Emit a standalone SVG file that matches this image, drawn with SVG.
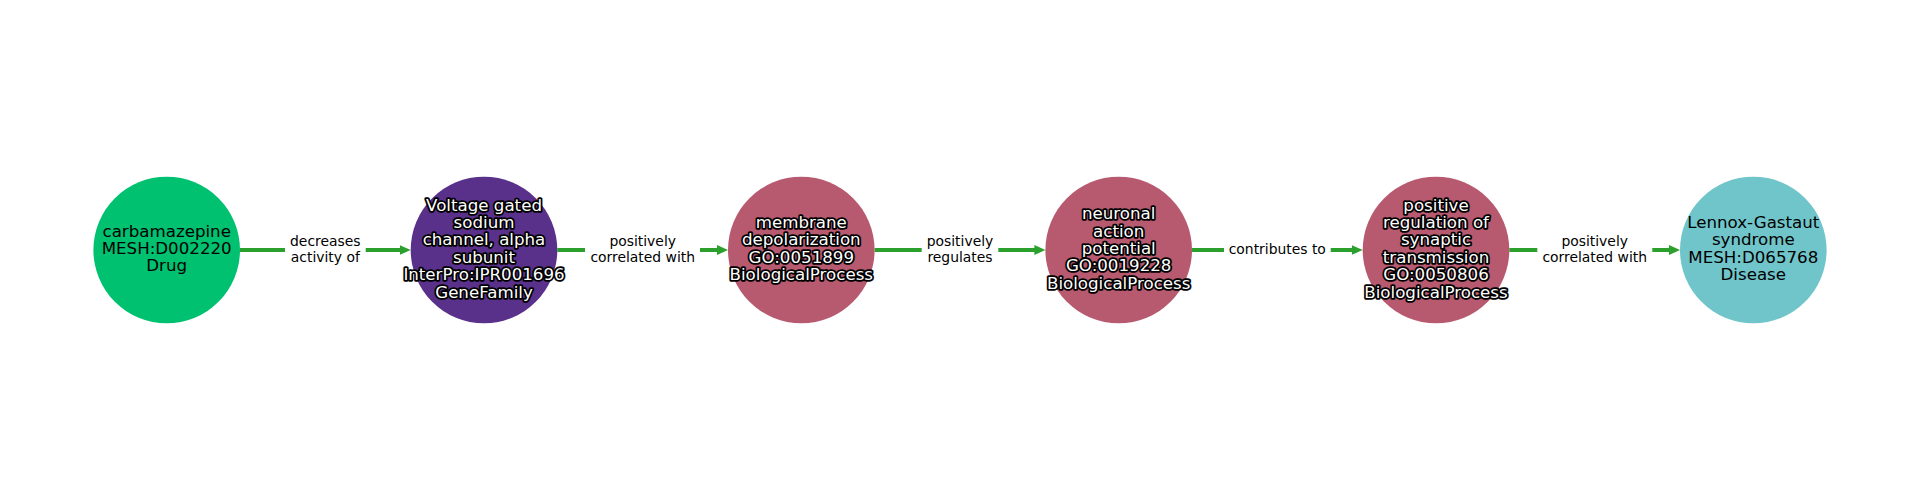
<svg xmlns="http://www.w3.org/2000/svg" width="1920" height="500" viewBox="0 0 1920 500">
<defs>
<style>
.bg{fill:#ffffff}
.edge{stroke:#2ca02c;stroke-width:4;fill:none}
.lbox{fill:#ffffff}
.elab{font-family:"DejaVu Sans",sans-serif;font-size:13.9px;fill:#000000;text-anchor:middle}
.nlab{font-family:"DejaVu Sans",sans-serif;font-size:16.67px;text-anchor:middle}
.dark{fill:#ffffff;stroke:#000000;stroke-width:3.6;stroke-linejoin:round;paint-order:stroke}
.light{fill:#000000}
.drug{fill:#00c170}
.gene{fill:#5a318a}
.bp{fill:#b75a70}
.dis{fill:#70c5ca}
</style>
<marker id="arr" markerUnits="userSpaceOnUse" markerWidth="14" markerHeight="12" viewBox="0 -6 14 12" refX="1" refY="0" orient="auto">
<path d="M0,-5 L11,0 L0,5 Z" fill="#2ca02c"/>
</marker>
</defs>
<rect class="bg" x="0" y="0" width="1920" height="500"/>
<g id="connectors">
<line class="edge" x1="240" y1="250" x2="400.7" y2="250" marker-end="url(#arr)"/>
<line class="edge" x1="557.3" y1="250" x2="718" y2="250" marker-end="url(#arr)"/>
<line class="edge" x1="874.6" y1="250" x2="1035.4" y2="250" marker-end="url(#arr)"/>
<line class="edge" x1="1192" y1="250" x2="1352.7" y2="250" marker-end="url(#arr)"/>
<line class="edge" x1="1509.3" y1="250" x2="1670" y2="250" marker-end="url(#arr)"/>
<g id="edge-labels">
<rect class="lbox" x="285" y="230" width="80.7" height="40"/>
<text class="elab" x="325.3" y="245.7"><tspan x="325.3">decreases</tspan><tspan x="325.3" dy="16">activity of</tspan></text>
<rect class="lbox" x="585" y="230" width="115" height="40"/>
<text class="elab" x="642.7" y="245.7"><tspan x="642.7">positively</tspan><tspan x="642.7" dy="16">correlated with</tspan></text>
<rect class="lbox" x="921.7" y="230" width="76.6" height="40"/>
<text class="elab" x="960" y="245.7"><tspan x="960">positively</tspan><tspan x="960" dy="16">regulates</tspan></text>
<rect class="lbox" x="1224" y="235" width="106.7" height="30"/>
<text class="elab" x="1277.3" y="254">contributes to</text>
<rect class="lbox" x="1537.3" y="230" width="115" height="40"/>
<text class="elab" x="1594.7" y="245.7"><tspan x="1594.7">positively</tspan><tspan x="1594.7" dy="16">correlated with</tspan></text>
</g>
</g>
<g id="node-carbamazepine">
<circle class="drug" cx="166.7" cy="250" r="73.3"/>
<text class="nlab light" y="236.6"><tspan x="166.7">carbamazepine</tspan><tspan x="166.7" dy="17.4">MESH:D002220</tspan><tspan x="166.7" dy="17.4">Drug</tspan></text>
</g>
<g id="node-sodium-channel">
<circle class="gene" cx="484" cy="250" r="73.3"/>
<text class="nlab dark" y="210.5"><tspan x="484">Voltage gated</tspan><tspan x="484" dy="17.4">sodium</tspan><tspan x="484" dy="17.4">channel, alpha</tspan><tspan x="484" dy="17.4">subunit</tspan><tspan x="484" dy="17.4">InterPro:IPR001696</tspan><tspan x="484" dy="17.4">GeneFamily</tspan></text>
</g>
<g id="node-membrane-depolarization">
<circle class="bp" cx="801.3" cy="250" r="73.3"/>
<text class="nlab dark" y="227.9"><tspan x="801.3">membrane</tspan><tspan x="801.3" dy="17.4">depolarization</tspan><tspan x="801.3" dy="17.4">GO:0051899</tspan><tspan x="801.3" dy="17.4">BiologicalProcess</tspan></text>
</g>
<g id="node-neuronal-action-potential">
<circle class="bp" cx="1118.7" cy="250" r="73.3"/>
<text class="nlab dark" y="219.2"><tspan x="1118.7">neuronal</tspan><tspan x="1118.7" dy="17.4">action</tspan><tspan x="1118.7" dy="17.4">potential</tspan><tspan x="1118.7" dy="17.4">GO:0019228</tspan><tspan x="1118.7" dy="17.4">BiologicalProcess</tspan></text>
</g>
<g id="node-synaptic-transmission">
<circle class="bp" cx="1436" cy="250" r="73.3"/>
<text class="nlab dark" y="210.5"><tspan x="1436">positive</tspan><tspan x="1436" dy="17.4">regulation of</tspan><tspan x="1436" dy="17.4">synaptic</tspan><tspan x="1436" dy="17.4">transmission</tspan><tspan x="1436" dy="17.4">GO:0050806</tspan><tspan x="1436" dy="17.4">BiologicalProcess</tspan></text>
</g>
<g id="node-lennox-gastaut">
<circle class="dis" cx="1753.3" cy="250" r="73.3"/>
<text class="nlab light" y="227.9"><tspan x="1753.3">Lennox-Gastaut</tspan><tspan x="1753.3" dy="17.4">syndrome</tspan><tspan x="1753.3" dy="17.4">MESH:D065768</tspan><tspan x="1753.3" dy="17.4">Disease</tspan></text>
</g>
</svg>
